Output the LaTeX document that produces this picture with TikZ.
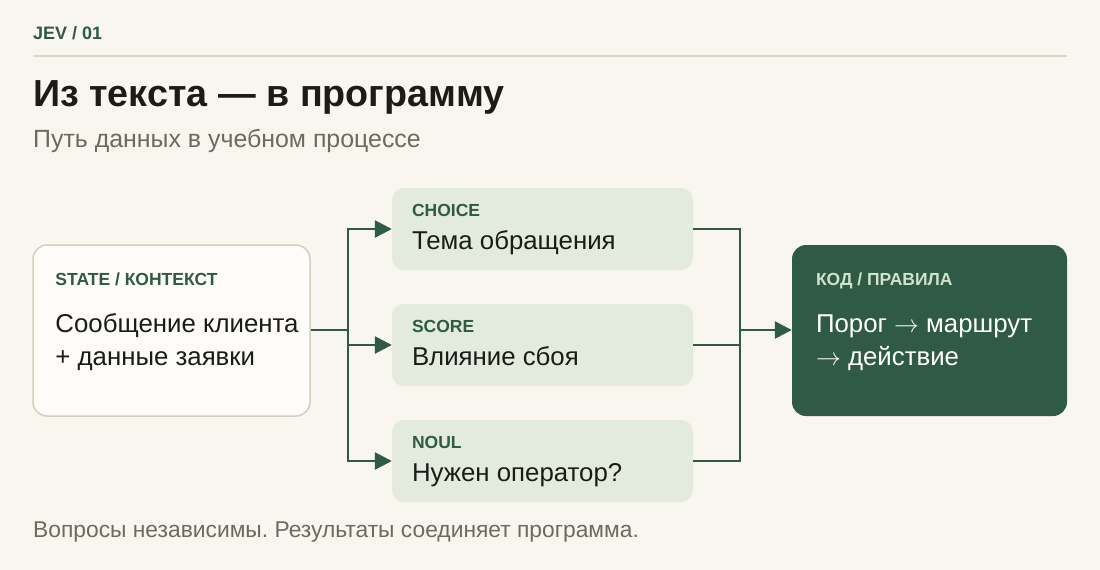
\documentclass[tikz,border=0pt]{standalone}
\usepackage{fontspec}
\setmainfont{Liberation Sans}
\usetikzlibrary{positioning, arrows.meta}
\definecolor{paper}{HTML}{F9F6EF}
\definecolor{ink}{HTML}{1C1C17}
\definecolor{muted}{HTML}{6C6B62}
\definecolor{pine}{HTML}{2F5A45}
\definecolor{rulecol}{HTML}{D3D9C5}
\definecolor{sage}{HTML}{E3EBDF}
\definecolor{cardfill}{HTML}{FDFCF8}
\definecolor{cardline}{HTML}{CDD2BF}
\definecolor{mint}{HTML}{CFE2CB}
\frenchspacing
\tikzstyle{card} = [rectangle, rounded corners=14pt, minimum width=277pt, minimum height=171pt, draw=cardline, line width=1.5pt, fill=cardfill]
\tikzstyle{question} = [rectangle, rounded corners=12pt, minimum width=301pt, minimum height=82pt, fill=sage]
\tikzstyle{code} = [rectangle, rounded corners=14pt, minimum width=275pt, minimum height=171pt, fill=pine]
\tikzstyle{tag} = [anchor=base west, inner sep=0pt, font=\fontsize{17.5}{21}\selectfont\bfseries, text=pine]
\tikzstyle{body} = [anchor=base west, inner sep=0pt, align=left, font=\fontsize{25.8}{33}\selectfont, text=ink]
\tikzstyle{line} = [line width=2.6pt, draw=pine]
\tikzstyle{arrow} = [line width=2.6pt, draw=pine, -{Triangle[length=17pt,width=17pt]}]

\begin{document}
\begin{tikzpicture}[x=1pt, y=-1pt]
\useasboundingbox (0,0) rectangle (1100,570);
\fill[paper] (0,0) rectangle (1100,570);

% header
\node (kicker) [tag, font=\fontsize{18}{21}\selectfont\bfseries] at (33,39) {JEV / 01};
\draw[rulecol, line width=2pt] (33,56) -- (1067,56);
\node (title) [anchor=base west, inner sep=0pt, font=\fontsize{37.7}{44}\selectfont\bfseries, text=ink] at (33,106) {Из текста — в программу};
\node (sub) [anchor=base west, inner sep=0pt, font=\fontsize{24.9}{29}\selectfont, text=muted] at (33,147) {Путь данных в учебном процессе};

% boxes
\node (ctx) [card] at (171.5,330.5) {};
\node (choice) [question] at (542.5,229) {};
\node (score) [question] at (542.5,345) {};
\node (noul) [question] at (542.5,461) {};
\node (rules) [code] at (929.5,330.5) {};

\node (ctxtag) [tag] at ([shift={(23,41)}]ctx.north west) {STATE / КОНТЕКСТ};
\node (ctxtxt) [body] at ([shift={(23,121)}]ctx.north west) {Сообщение клиента\\+ данные заявки};

\node (choicetag) [tag] at ([shift={(20,29)}]choice.north west) {CHOICE};
\node (choicetxt) [body] at ([shift={(20,62)}]choice.north west) {Тема обращения};
\node (scoretag) [tag] at ([shift={(20,29)}]score.north west) {SCORE};
\node (scoretxt) [body] at ([shift={(20,62)}]score.north west) {Влияние сбоя};
\node (noultag) [tag] at ([shift={(20,29)}]noul.north west) {NOUL};
\node (noultxt) [body] at ([shift={(20,62)}]noul.north west) {Нужен оператор?};

\node (rulestag) [tag, text=mint] at ([shift={(24,41)}]rules.north west) {КОД / ПРАВИЛА};
\node (rulestxt) [body, text=white] at ([shift={(24,121)}]rules.north west) {Порог $\rightarrow$ маршрут\\$\rightarrow$ действие};

% connectors
\coordinate (fork) at (348,330);
\coordinate (join) at (740,330);
\draw [arrow] (ctx.east |- fork) -- (fork) |- (choice.west);
\draw [arrow] (fork) |- (score.west);
\draw [arrow] (fork) |- (noul.west);
\draw [line] (choice.east) -| (join);
\draw [line] (score.east) -| (join);
\draw [line] (noul.east) -| (join);
\draw [arrow] (join) -- (rules.west |- join);

\node (foot) [anchor=base west, inner sep=0pt, font=\fontsize{22.8}{27}\selectfont, text=muted] at (33,537) {Вопросы независимы. Результаты соединяет программа.};
\end{tikzpicture}
\end{document}
